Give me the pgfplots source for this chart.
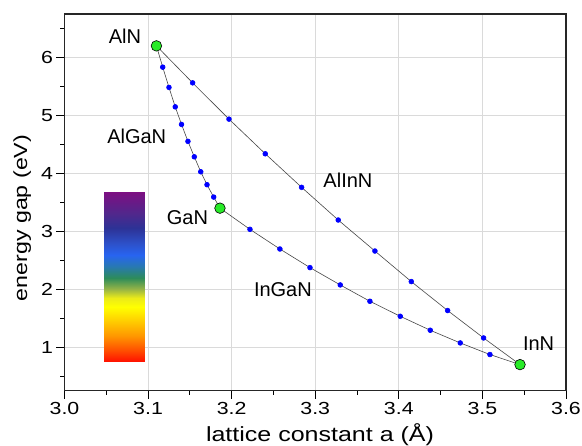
\documentclass[border=0pt]{standalone}
\usepackage{pgfplots}
\pgfplotsset{compat=1.18}
\usepackage{fontspec}
\setmainfont{Liberation Sans}
\newfontfamily\axisfont[FakeStretch=1.22]{Liberation Sans}

\definecolor{dotblue}{RGB}{0,0,255}
\definecolor{bingreen}{RGB}{40,235,40}
\definecolor{gridgray}{RGB}{218,218,218}
\definecolor{linegray}{RGB}{70,70,70}

\begin{document}
\begin{tikzpicture}
\begin{axis}[%
width=501.5pt,
height=376.7pt,
scale only axis,
xmin=3.0, xmax=3.6,
ymin=0.25, ymax=6.75,
xtick={3.0,3.1,...,3.6},
ytick={1,2,...,6},
minor xtick={3.05,3.15,...,3.55},
minor ytick={0.5,1.5,...,6.5},
xticklabel style={/pgf/number format/.cd,fixed,fixed zerofill,precision=1},
/pgf/number format/assume math mode=true,
tick label style={font=\axisfont\fontsize{17.5}{20}\selectfont},
xlabel={lattice constant a (Å)},
ylabel={energy gap (eV)},
xlabel style={font=\axisfont\fontsize{20.5}{23}\selectfont,
  at={(axis description cs:0.5095,-0.1346)}, anchor=base},
ylabel style={font=\axisfont\fontsize{19}{22}\selectfont,
  at={(axis description cs:-0.0744,0.4585)}, anchor=base},
tick align=outside,
major tick length=8pt,
minor tick length=4pt,
tick style={black, line width=0.9pt},
xtick pos=bottom, ytick pos=left,
axis line style={line width=1.2pt, black!85},
grid=major,
major grid style={gridgray, line width=0.8pt},
colormap={spec}{
  rgb255(76pt)=(255,20,0);
  rgb255(95pt)=(255,80,0);
  rgb255(120pt)=(255,150,0);
  rgb255(145pt)=(255,205,0);
  rgb255(170pt)=(255,255,0);
  rgb255(185pt)=(235,235,25);
  rgb255(200pt)=(150,180,70);
  rgb255(220pt)=(45,140,90);
  rgb255(240pt)=(40,120,180);
  rgb255(260pt)=(40,100,240);
  rgb255(280pt)=(45,80,200);
  rgb255(305pt)=(45,50,150);
  rgb255(330pt)=(80,40,140);
  rgb255(367pt)=(125,15,130)
},
point meta min=0.76, point meta max=3.67,
clip=false
]

% spectrum bar
\addplot[surf, shader=interp, mesh/rows=2, point meta=\thisrow{e}]
table{
x y e
3.047 0.76 0.76
3.047 0.95 0.95
3.047 1.20 1.20
3.047 1.45 1.45
3.047 1.70 1.70
3.047 1.85 1.85
3.047 2.00 2.00
3.047 2.20 2.20
3.047 2.40 2.40
3.047 2.60 2.60
3.047 2.80 2.80
3.047 3.05 3.05
3.047 3.30 3.30
3.047 3.67 3.67

3.096 0.76 0.76
3.096 0.95 0.95
3.096 1.20 1.20
3.096 1.45 1.45
3.096 1.70 1.70
3.096 1.85 1.85
3.096 2.00 2.00
3.096 2.20 2.20
3.096 2.40 2.40
3.096 2.60 2.60
3.096 2.80 2.80
3.096 3.05 3.05
3.096 3.30 3.30
3.096 3.67 3.67
};

% AlGaN
\addplot[linegray, line width=0.6pt, mark=*, mark size=2.4pt,
  mark options={dotblue, draw=dotblue}]
coordinates {(3.110,6.20) (3.1175,5.833) (3.125,5.483) (3.1325,5.148) (3.140,4.845)
 (3.1477,4.552) (3.1553,4.286) (3.163,4.028) (3.1705,3.804) (3.1785,3.591) (3.186,3.40)};

% AlInN
\addplot[linegray, line width=0.6pt, mark=*, mark size=2.4pt,
  mark options={dotblue, draw=dotblue}]
coordinates {(3.110,6.20) (3.1533,5.562) (3.1968,4.936) (3.2402,4.338) (3.2837,3.759)
 (3.3275,3.195) (3.3714,2.660) (3.4149,2.133) (3.4584,1.633) (3.5014,1.160) (3.545,0.70)};

% InGaN
\addplot[linegray, line width=0.6pt, mark=*, mark size=2.4pt,
  mark options={dotblue, draw=dotblue}]
coordinates {(3.186,3.40) (3.2219,3.034) (3.2577,2.695) (3.2937,2.374) (3.3299,2.075)
 (3.3654,1.793) (3.4017,1.534) (3.4376,1.293) (3.4735,1.074) (3.509,0.874) (3.545,0.70)};

% binaries
\addplot[only marks, mark=*, mark size=5.3pt,
  mark options={fill=bingreen, draw=black, line width=0.6pt}]
coordinates {(3.110,6.20) (3.186,3.40) (3.545,0.70)};

\begin{scope}[font=\fontsize{20}{23}\selectfont]
\node at (axis cs:3.0724,6.367) {AlN};
\node at (axis cs:3.0864,4.631) {AlGaN};
\node at (axis cs:3.1471,3.236) {GaN};
\node at (axis cs:3.3391,3.885) {AlInN};
\node at (axis cs:3.2613,2.0) {InGaN};
\node at (axis cs:3.5672,1.069) {InN};
\end{scope}
\end{axis}
\pgfresetboundingbox
\path (current axis.south west) ++(-64.5pt,-55.3pt) rectangle ++(582pt,446pt);
\end{tikzpicture}
\end{document}
